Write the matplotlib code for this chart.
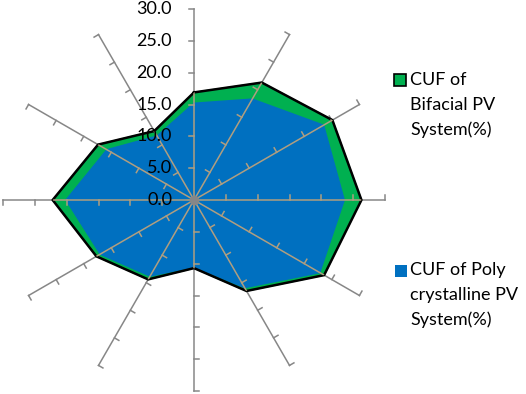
import numpy as np
import matplotlib
matplotlib.use('Agg')
import matplotlib.pyplot as plt
from matplotlib.patches import Rectangle

plt.rcParams['font.family'] = ['Lato', 'DejaVu Sans']

# values read clockwise starting at the top spoke
bifacial = [16.9, 21.3, 25.1, 26.3, 23.6, 16.5, 10.7, 14.4, 17.7, 22.2, 17.4, 12.5]
poly = [15.2, 18.3, 23.5, 23.6, 22.8, 15.9, 10.5, 13.8, 17.0, 20.1, 15.8, 11.6]
r_ticks = [0, 5, 10, 15, 20, 25, 30]
legend_bifacial = ['CUF of', 'Bifacial PV', 'System(%)']
legend_poly = ['CUF of Poly', 'crystalline PV', 'System(%)']

green = '#00B050'
blue = '#0070C0'
grey = '#878787'
tan = '#B09E80'

n = len(bifacial)
theta = np.arange(n) * 2 * np.pi / n
th_c = np.append(theta, theta[0])

W, H = 526, 394
fig = plt.figure(figsize=(W / 100, H / 100), dpi=100)
cx, cy, R = 194, 200, 191
ax = fig.add_axes([(cx - R) / W, (H - cy - R) / H, 2 * R / W, 2 * R / H], projection='polar')
ax.set_theta_zero_location('N')
ax.set_theta_direction(-1)
ax.set_ylim(0, 30)
ax.grid(False)
ax.spines['polar'].set_visible(False)
ax.set_xticks([])
ax.set_yticks([])
ax.patch.set_visible(False)

# spokes with tick marks
tick_len = 0.8
for t in theta:
    ax.plot([t, t], [0, 30], color=grey, lw=1.1, zorder=1, clip_on=False)
    for v in r_ticks[1:]:
        d = np.arctan(tick_len / v)
        ax.plot([t, t - d], [v, np.hypot(v, tick_len)], color=grey, lw=1.1, zorder=1, clip_on=False)

# filled series
fg = ax.fill(th_c, np.append(bifacial, bifacial[0]), color=green, zorder=2)[0]
ax.plot(th_c, np.append(bifacial, bifacial[0]), color='black', lw=1.8, zorder=4)
fb = ax.fill(th_c, np.append(poly, poly[0]), color=blue, zorder=3)[0]

# spokes drawn again on top of the fills (they show tan inside)
for t in theta:
    ln = ax.plot([t, t], [0, 30], color=tan, lw=1.1, zorder=5)[0]
    ln.set_clip_path(fg)
    for v in r_ticks[1:]:
        d = np.arctan(tick_len / v)
        tk = ax.plot([t, t - d], [v, np.hypot(v, tick_len)], color=tan, lw=1.1, zorder=5)[0]
        tk.set_clip_path(fg)
ax.plot([0], [0], 'o', color=grey, ms=6, zorder=6)

# radial labels on the top spoke
for v in r_ticks:
    ax.annotate('%.1f' % v, xy=(0, v), xytext=(-22, 0), textcoords='offset pixels',
                ha='right', va='center', fontsize=13, color='black', zorder=7,
                annotation_clip=False)

# legend
fig.patches.append(Rectangle((394 / W, 1 - 86 / H), 12 / W, 12 / H, transform=fig.transFigure,
                             facecolor=green, edgecolor='black', lw=1.2))
for i, s in enumerate(legend_bifacial):
    fig.text(410 / W, 1 - (80 + 25 * i) / H, s, ha='left', va='center', fontsize=13)
fig.patches.append(Rectangle((395 / W, 1 - 277 / H), 12 / W, 12 / H, transform=fig.transFigure,
                             facecolor=blue, edgecolor='none'))
for i, s in enumerate(legend_poly):
    fig.text(410 / W, 1 - (270 + 25 * i) / H, s, ha='left', va='center', fontsize=13)

fig.savefig('out.png', dpi=100)
